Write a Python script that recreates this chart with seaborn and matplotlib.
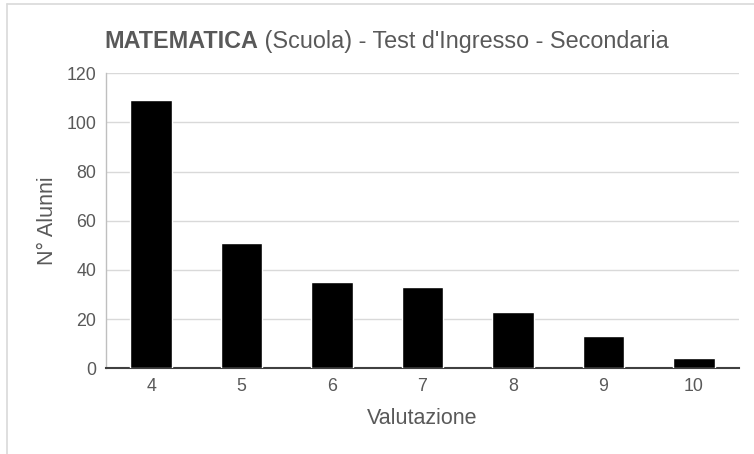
import numpy as np
import pandas as pd
import seaborn as sns
import matplotlib.pyplot as plt
from matplotlib.lines import Line2D

# data
voti = ['4', '5', '6', '7', '8', '9', '10']
alunni = [109, 51, 35, 33, 23, 13, 4]

df = pd.DataFrame({'Valutazione': voti, 'Alunni': alunni})

sns.set_style('white')
plt.rcParams['font.family'] = ['Liberation Sans', 'DejaVu Sans']

grey = '#595959'
fig = plt.figure(figsize=(7.54, 4.54), dpi=100)
ax = fig.add_axes([106 / 754, 1 - 368.3 / 454, (739 - 106) / 754, (368.3 - 73.3) / 454])

sns.barplot(data=df, x='Valutazione', y='Alunni', color='black', width=0.46,
            saturation=1, ax=ax, zorder=3)

ax.set_ylim(0, 120)
ax.set_yticks(range(0, 121, 20))
ax.yaxis.grid(True, color='#d9d9d9', linewidth=1, zorder=0)
ax.set_axisbelow(True)
ax.tick_params(axis='both', length=0, labelsize=12.8, labelcolor=grey, pad=7)

for s in ['top', 'right']:
    ax.spines[s].set_visible(False)
ax.spines['left'].set_color('#bfbfbf')
ax.spines['left'].set_linewidth(1)
ax.spines['bottom'].set_color('#404040')
ax.spines['bottom'].set_linewidth(1.5)

ax.set_xlabel('Valutazione', fontsize=15.5, color=grey, labelpad=9)
ax.set_ylabel('N° Alunni', fontsize=15.5, color=grey, labelpad=6)

# title with bold first word
ty = 1 - 48 / 454
t1 = fig.text(104 / 754, ty, 'MATEMATICA', fontsize=16.8, fontweight='bold', color=grey,
              ha='left', va='baseline')
fig.canvas.draw()
bb = t1.get_window_extent()
fig.text(bb.x1 / 754, ty, " (Scuola) - Test d'Ingresso - Secondaria", fontsize=16.8,
         color=grey, ha='left', va='baseline')

# light frame of the chart area
fig.add_artist(Line2D([7 / 754, 1], [1 - 4 / 454, 1 - 4 / 454], color='#d9d9d9', lw=1.2,
                      transform=fig.transFigure))
fig.add_artist(Line2D([7 / 754, 7 / 754], [0, 1 - 4 / 454], color='#d9d9d9', lw=1.2,
                      transform=fig.transFigure))

plt.savefig('out.png', dpi=100)
